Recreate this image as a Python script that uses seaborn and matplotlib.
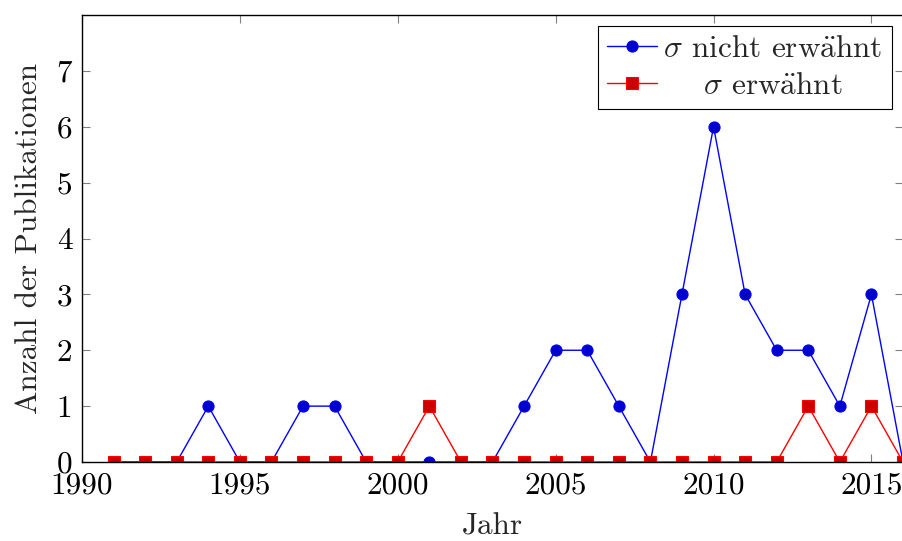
import matplotlib
matplotlib.use("Agg")
import matplotlib.pyplot as plt
import seaborn as sns
import pandas as pd

years = list(range(1991, 2017))
nicht_erwaehnt = [0, 0, 0, 1, 0, 0, 1, 1, 0, 0, 0, 0, 0, 1, 2, 2, 1, 0, 3, 6, 3, 2, 2, 1, 3, 0]
erwaehnt = [0, 0, 0, 0, 0, 0, 0, 0, 0, 0, 1, 0, 0, 0, 0, 0, 0, 0, 0, 0, 0, 0, 1, 0, 1, 0]
labels = [r"$\sigma$ nicht erw$\ddot{\mathrm{a}}$hnt", r"$\sigma$ erw$\ddot{\mathrm{a}}$hnt"]
xticks = [1990, 1995, 2000, 2005, 2010, 2015]
yticks = [0, 1, 2, 3, 4, 5, 6, 7]

sns.set_style("ticks")
plt.rcParams["font.family"] = ["cmr10", "DejaVu Serif"]
plt.rcParams["mathtext.fontset"] = "cm"
plt.rcParams["axes.formatter.use_mathtext"] = True

FS = 22.5

df = pd.DataFrame({
    "Jahr": years * 2,
    "Anzahl": nicht_erwaehnt + erwaehnt,
    "Serie": [labels[0]] * len(years) + [labels[1]] * len(years),
})

fig = plt.figure(figsize=(9.02, 5.41), dpi=100)
ax = fig.add_axes([82 / 902, 79 / 541, 821 / 902, 447 / 541])

sns.lineplot(data=df[df.Serie == labels[0]], x="Jahr", y="Anzahl", ax=ax,
             color="#0000ff", marker="o", markersize=8, markerfacecolor="#0000cc",
             markeredgecolor="#0000ff", markeredgewidth=0.8, linewidth=1.0,
             label=labels[0], clip_on=True)
sns.lineplot(data=df[df.Serie == labels[1]], x="Jahr", y="Anzahl", ax=ax,
             color="#ff0000", marker="s", markersize=8, markerfacecolor="#cc0000",
             markeredgecolor="#ff0000", markeredgewidth=0.8, linewidth=1.0,
             label=labels[1], clip_on=True)

ax.set_xlim(1990, 2016)
ax.set_ylim(0, 8)
ax.set_xticks(xticks)
ax.set_yticks(yticks)
ax.set_xticklabels([str(t) for t in xticks])
ax.set_yticklabels([str(t) for t in yticks])
ax.tick_params(direction="in", length=6, width=0.8, color="#808080",
               labelsize=FS, top=True, right=True, labelcolor="black", pad=7)
for s in ax.spines.values():
    s.set_color("black")
    s.set_linewidth(1.0)
ax.set_xlabel("Jahr", fontsize=FS, labelpad=9)
ax.set_ylabel("Anzahl der Publikationen", fontsize=FS, labelpad=10)

leg = ax.legend(loc="upper right", fontsize=FS, frameon=True, fancybox=False,
                edgecolor="black", framealpha=1, borderpad=0.3, handlelength=1.6,
                handletextpad=0.2, labelspacing=0.28, borderaxespad=0.35)
leg.get_frame().set_linewidth(0.8)

fig.canvas.draw()
r = fig.canvas.get_renderer()
texts = leg.get_texts()
widths = [t.get_window_extent(r).width for t in texts]
wmax = max(widths)
for t, w in zip(texts, widths):
    t.set_x((wmax - w) / 2)

fig.savefig("out.png", dpi=100)
